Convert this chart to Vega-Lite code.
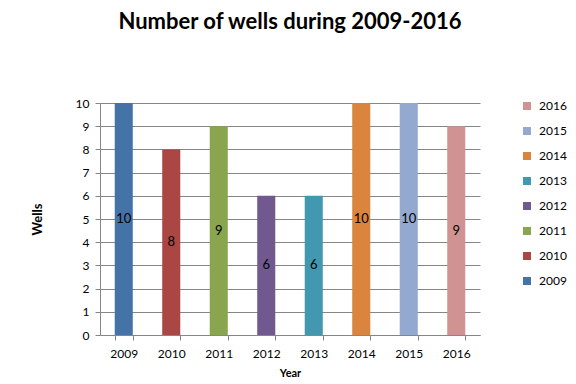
{
  "$schema": "https://vega.github.io/schema/vega-lite/v6.json",
  "width": 380,
  "height": 232,
  "autosize": {"type": "none"},
  "padding": {"left": 100, "top": 103, "right": 96, "bottom": 49},
  "background": "white",
  "config": {
    "font": "Lato",
    "view": {"stroke": null},
    "axis": {"labelFont": "Lato", "titleFont": "Lato", "labelColor": "#000", "titleColor": "#000", "labelFontSize": 12, "titleFontSize": 12, "titleFontWeight": "bold", "domainColor": "#868686", "tickColor": "#868686", "gridColor": "#868686"}
  },
  "title": {"text": "Number of wells during 2009-2016", "font": "Lato", "fontSize": 22, "fontWeight": "bold", "color": "#000", "offset": 63, "anchor": "middle"},
  "data": {"values": [
    {"Year": "2009", "Wells": 10},
    {"Year": "2010", "Wells": 8},
    {"Year": "2011", "Wells": 9},
    {"Year": "2012", "Wells": 6},
    {"Year": "2013", "Wells": 6},
    {"Year": "2014", "Wells": 10},
    {"Year": "2015", "Wells": 10},
    {"Year": "2016", "Wells": 9}
  ]},
  "transform": [{"calculate": "datum.Wells / 2", "as": "LabelPos"}],
  "encoding": {
    "x": {"field": "Year", "type": "nominal", "scale": {"paddingInner": 0.62, "paddingOuter": 0.31},
      "axis": {"labelAngle": 0, "labelPadding": 8, "tickBand": "extent", "tickSize": 5, "titlePadding": 8, "title": "Year", "titleFontSize": 11}}
  },
  "layer": [
    {
      "mark": {"type": "bar"},
      "encoding": {
        "y": {"field": "Wells", "type": "quantitative", "scale": {"domain": [0, 10]},
          "axis": {"values": [0,1,2,3,4,5,6,7,8,9,10], "labelOverlap": false, "grid": true, "labelPadding": 6, "tickSize": 5, "title": "Wells", "titleFontSize": 13, "titleX": -63, "titleY": 116, "titleAngle": -90, "titleAnchor": "middle", "titleBaseline": "middle"}},
        "color": {"field": "Year", "type": "nominal",
          "scale": {"domain": ["2016","2015","2014","2013","2012","2011","2010","2009"], "range": ["#D19392","#93A9CF","#DB843D","#4198AF","#71588F","#89A54E","#AA4643","#4572A7"]},
          "legend": {"title": null, "orient": "none", "legendX": 421, "legendY": -3, "symbolType": "square", "symbolSize": 64, "symbolStrokeWidth": 0, "rowPadding": 13, "labelFontSize": 12, "labelFont": "Lato", "labelColor": "#000", "labelOffset": 6}}
      }
    },
    {
      "mark": {"type": "text", "fontSize": 13, "color": "#000", "font": "Lato"},
      "encoding": {
        "y": {"field": "LabelPos", "type": "quantitative",
          "axis": {"values": [0,1,2,3,4,5,6,7,8,9,10], "labelOverlap": false, "grid": true, "labelPadding": 6, "tickSize": 5, "title": "Wells", "titleFontSize": 13, "titleX": -63, "titleY": 116, "titleAngle": -90, "titleAnchor": "middle", "titleBaseline": "middle"}},
        "text": {"field": "Wells", "type": "quantitative"}
      }
    }
  ]
}
